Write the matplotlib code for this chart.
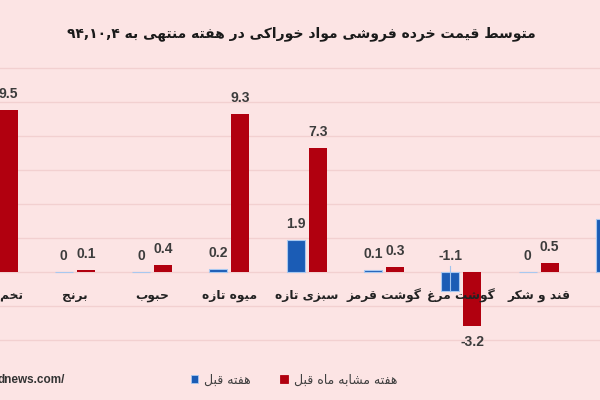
"""
Average retail food price change chart (Persian labels).
Arabic-script shaping is done by hand since matplotlib has no RTL support.
"""

import re
import numpy as np
import matplotlib.pyplot as plt
from matplotlib.patches import Patch

TITLE = "متوسط قیمت خرده فروشی مواد خوراکی در هفته منتهی به ۹۴,۱۰,۴"
CATEGORIES = ["تخم مرغ", "برنج", "حبوب", "میوه تازه", "سبزی تازه",
              "گوشت قرمز", "گوشت مرغ", "قند و شکر", "روغن"]
PREV_WEEK = [0.8, 0, 0, 0.2, 1.9, 0.1, -1.1, 0, 3.1]
PREV_MONTH = [9.5, 0.1, 0.4, 9.3, 7.3, 0.3, -3.2, 0.5, 4.2]
LEGEND_LABELS = ["هفته قبل", "هفته مشابه ماه قبل"]
SOURCE = "dnews.com/"

BG = "#fce4e4"
BLUE = "#1b5cb5"
RED = "#b1000f"
LABEL_GRAY = "#3c3c3c"

# isolated, final, initial, medial
FORMS = {
    "ا": ("\uFE8D", "\uFE8E", None, None),
    "آ": ("\uFE81", "\uFE82", None, None),
    "ب": ("\uFE8F", "\uFE90", "\uFE91", "\uFE92"),
    "پ": ("\uFB56", "\uFB57", "\uFB58", "\uFB59"),
    "ت": ("\uFE95", "\uFE96", "\uFE97", "\uFE98"),
    "ث": ("\uFE99", "\uFE9A", "\uFE9B", "\uFE9C"),
    "ج": ("\uFE9D", "\uFE9E", "\uFE9F", "\uFEA0"),
    "چ": ("\uFB7A", "\uFB7B", "\uFB7C", "\uFB7D"),
    "ح": ("\uFEA1", "\uFEA2", "\uFEA3", "\uFEA4"),
    "خ": ("\uFEA5", "\uFEA6", "\uFEA7", "\uFEA8"),
    "د": ("\uFEA9", "\uFEAA", None, None),
    "ذ": ("\uFEAB", "\uFEAC", None, None),
    "ر": ("\uFEAD", "\uFEAE", None, None),
    "ز": ("\uFEAF", "\uFEB0", None, None),
    "ژ": ("\uFB8A", "\uFB8B", None, None),
    "س": ("\uFEB1", "\uFEB2", "\uFEB3", "\uFEB4"),
    "ش": ("\uFEB5", "\uFEB6", "\uFEB7", "\uFEB8"),
    "ص": ("\uFEB9", "\uFEBA", "\uFEBB", "\uFEBC"),
    "ض": ("\uFEBD", "\uFEBE", "\uFEBF", "\uFEC0"),
    "ط": ("\uFEC1", "\uFEC2", "\uFEC3", "\uFEC4"),
    "ظ": ("\uFEC5", "\uFEC6", "\uFEC7", "\uFEC8"),
    "ع": ("\uFEC9", "\uFECA", "\uFECB", "\uFECC"),
    "غ": ("\uFECD", "\uFECE", "\uFECF", "\uFED0"),
    "ف": ("\uFED1", "\uFED2", "\uFED3", "\uFED4"),
    "ق": ("\uFED5", "\uFED6", "\uFED7", "\uFED8"),
    "ک": ("\uFB8E", "\uFB8F", "\uFB90", "\uFB91"),
    "گ": ("\uFB92", "\uFB93", "\uFB94", "\uFB95"),
    "ل": ("\uFEDD", "\uFEDE", "\uFEDF", "\uFEE0"),
    "م": ("\uFEE1", "\uFEE2", "\uFEE3", "\uFEE4"),
    "ن": ("\uFEE5", "\uFEE6", "\uFEE7", "\uFEE8"),
    "و": ("\uFEED", "\uFEEE", None, None),
    "ه": ("\uFEE9", "\uFEEA", "\uFEEB", "\uFEEC"),
    "ی": ("\uFBFC", "\uFBFD", "\uFBFE", "\uFBFF"),
}


def fa(text: str) -> str:
    """Shape Persian letters and put them in visual (left-to-right) order."""
    out = []
    for i, c in enumerate(text):
        if c not in FORMS:
            out.append(c)
            continue
        prev = text[i - 1] if i > 0 else None
        nxt = text[i + 1] if i + 1 < len(text) else None
        join_prev = prev in FORMS and FORMS[prev][2] is not None
        join_next = nxt in FORMS and FORMS[c][2] is not None
        iso, fin, ini, med = FORMS[c]
        if join_prev and join_next:
            out.append(med)
        elif join_prev:
            out.append(fin)
        elif join_next:
            out.append(ini)
        else:
            out.append(iso)
    rev = "".join(out)[::-1]
    # digit runs stay left-to-right
    return re.sub(r"[0-9\u06F0-\u06F9.,]+", lambda m: m.group(0)[::-1], rev)


def value_label(ax, x, v):
    txt = f"{v:g}"
    if v >= 0:
        y, off, va = v, 9, "bottom"
    elif v > -2:
        # small negative label sits above the axis, with a leader line
        y, off, va = 0, 9, "bottom"
        ax.plot([x, x], [0.35, v], color="#9fc3ef", lw=0.8, zorder=4)
    else:
        y, off, va = v, -9, "top"
    ax.annotate(txt, (x, y), xytext=(0, off), textcoords="offset pixels",
                ha="center", va=va, fontsize=10, fontweight="bold",
                family="Liberation Sans", color=LABEL_GRAY, zorder=5)


def main() -> None:
    fig = plt.figure(figsize=(6, 4), dpi=100, facecolor=BG)
    ax = fig.add_axes([0, 0.1, 1, 0.75], facecolor=BG)

    x = np.arange(len(CATEGORIES))
    w, off = 0.233, 0.142
    ax.bar(x - off, PREV_WEEK, w, color=BLUE, edgecolor="#a8c8f0", linewidth=0.8, zorder=3)
    ax.bar(x + off, PREV_MONTH, w, color=RED, linewidth=0, zorder=3)

    for xi, v in zip(x - off, PREV_WEEK):
        value_label(ax, xi, v)
    for xi, v in zip(x + off, PREV_MONTH):
        value_label(ax, xi, v)

    for xi, name in zip(x, CATEGORIES):
        ax.text(xi, -1.38, fa(name), ha="center", va="center", fontsize=8.8,
                fontweight="bold", family="DejaVu Sans", color="#222222", zorder=6)

    ax.set_xlim(0.032, 7.794)
    ax.set_ylim(-5.18, 12.47)
    ax.set_yticks(np.arange(-4, 13, 2))
    ax.set_xticks([])
    ax.tick_params(left=False, labelleft=False)
    ax.grid(axis="y", color="#f2d0d0", lw=1, zorder=0)
    for s in ax.spines.values():
        s.set_visible(False)

    fig.text(0.503, 0.915, fa(TITLE), ha="center", va="center", fontsize=10,
             fontweight="bold", family="DejaVu Sans", color="#1a1a1a")

    handles = [Patch(facecolor=BLUE, edgecolor="#a8c8f0", lw=0.6),
               Patch(facecolor=RED, edgecolor=RED, lw=0.6)]
    fig.legend(handles, [fa(t) for t in LEGEND_LABELS], loc="center",
               bbox_to_anchor=(0.49, 0.05), ncol=2, frameon=False,
               handlelength=0.6, handleheight=0.6, handletextpad=0.5,
               columnspacing=2.3, prop={"family": "DejaVu Sans", "size": 9},
               labelcolor="#404040")

    fig.text(-0.004, 0.05, SOURCE, ha="left", va="center", fontsize=8.5,
             fontweight="bold", family="Liberation Sans", color="#333333")

    fig.savefig("out.png", dpi=100, facecolor=BG)
    plt.close(fig)


if __name__ == "__main__":
    main()
